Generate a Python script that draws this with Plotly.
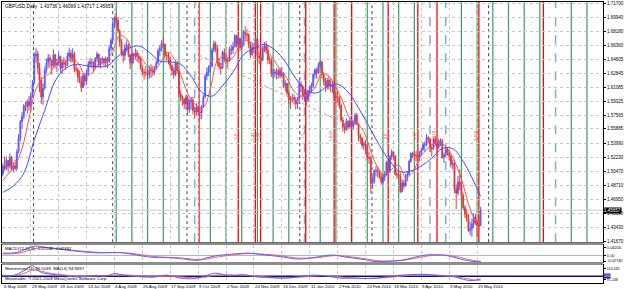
import plotly.graph_objects as go

# ---------------- data (bar index 0 = 6 May 2009 ... 274 = 27 May 2010) ----------------
bar_close = [
1.5120,1.5090,1.5190,1.5120,1.5230,1.5080,1.5120,1.5090,1.5300,1.5470,
1.5680,1.5740,1.5880,1.5870,1.5930,1.5880,1.6000,1.6160,1.6500,1.6530,
1.6350,1.6200,1.5990,1.6100,1.6330,1.6420,1.6480,1.6450,1.6380,1.6520,
1.6390,1.6420,1.6500,1.6350,1.6430,1.6400,1.6390,1.6500,1.6540,1.6470,
1.6530,1.6340,1.6330,1.6240,1.6190,1.6110,1.6260,1.6190,1.6300,1.6400,
1.6430,1.6420,1.6360,1.6470,1.6530,1.6390,1.6450,1.6470,1.6420,1.6470,
1.6440,1.6600,1.6700,1.6910,1.6990,1.6950,1.6820,1.6680,1.6540,1.6510,
1.6610,1.6640,1.6520,1.6420,1.6530,1.6500,1.6540,1.6500,1.6470,1.6350,
1.6300,1.6290,1.6290,1.6270,1.6330,1.6320,1.6300,1.6350,1.6420,1.6570,
1.6600,1.6660,1.6650,1.6510,1.6510,1.6460,1.6380,1.6320,1.6270,1.6410,
1.6320,1.6030,1.5980,1.5960,1.5900,1.5980,1.5830,1.5920,1.5950,1.5820,
1.5800,1.5860,1.5800,1.5790,1.5870,1.5990,1.6250,1.6300,1.6360,1.6380,
1.6580,1.6660,1.6600,1.6420,1.6370,1.6350,1.6550,1.6460,1.6450,1.6440,
1.6590,1.6580,1.6620,1.6760,1.6650,1.6730,1.6610,1.6640,1.6800,1.6780,
1.6770,1.6650,1.6520,1.6610,1.6600,1.6720,1.6500,1.6480,1.6450,1.6610,
1.6630,1.6580,1.6460,1.6450,1.6280,1.6290,1.6300,1.6270,1.6320,1.6260,
1.6290,1.6130,1.6160,1.6040,1.5960,1.5950,1.5980,1.5950,1.5900,1.5960,
1.6150,1.6120,1.6000,1.6030,1.5950,1.6050,1.6100,1.6130,1.6270,1.6330,
1.6290,1.6390,1.6430,1.6270,1.6180,1.6120,1.6200,1.6140,1.6120,1.6140,
1.5990,1.5990,1.5980,1.5880,1.5700,1.5610,1.5580,1.5680,1.5610,1.5690,
1.5620,1.5660,1.5760,1.5650,1.5500,1.5470,1.5380,1.5400,1.5360,1.5230,
1.5220,1.4900,1.4930,1.5060,1.5060,1.5050,1.4980,1.4920,1.4980,1.5020,
1.5170,1.5050,1.5240,1.5300,1.5250,1.5020,1.5010,1.4990,1.4800,1.4910,
1.4870,1.4990,1.5020,1.5180,1.5280,1.5270,1.5250,1.5250,1.5230,1.5280,
1.5330,1.5390,1.5390,1.5480,1.5460,1.5350,1.5340,1.5460,1.5410,1.5360,
1.5440,1.5440,1.5230,1.5260,1.5330,1.5280,1.5250,1.5140,1.5160,1.4830,
1.4780,1.4920,1.4870,1.4750,1.4600,1.4520,1.4460,1.4310,1.4330,1.4390,
1.4480,1.4410,1.4380,1.4370,1.4566]
bar_high = [
1.5160,1.5240,1.5240,1.5200,1.5280,1.5250,1.5170,1.5200,1.5330,1.5520,
1.5700,1.5800,1.5900,1.5930,1.5960,1.6000,1.6040,1.6200,1.6550,1.6600,
1.6570,1.6420,1.6240,1.6160,1.6370,1.6470,1.6530,1.6520,1.6460,1.6590,
1.6530,1.6470,1.6560,1.6510,1.6460,1.6490,1.6460,1.6550,1.6610,1.6580,
1.6600,1.6560,1.6400,1.6360,1.6320,1.6250,1.6290,1.6290,1.6330,1.6440,
1.6480,1.6470,1.6440,1.6490,1.6560,1.6530,1.6480,1.6500,1.6480,1.6500,
1.6490,1.6640,1.6730,1.6950,1.7000,1.7043,1.6990,1.6840,1.6720,1.6590,
1.6660,1.6700,1.6660,1.6510,1.6560,1.6540,1.6600,1.6580,1.6540,1.6500,
1.6390,1.6340,1.6380,1.6330,1.6380,1.6400,1.6380,1.6380,1.6450,1.6600,
1.6640,1.6700,1.6740,1.6660,1.6560,1.6550,1.6490,1.6400,1.6360,1.6450,
1.6440,1.6330,1.6070,1.6010,1.5980,1.6020,1.6000,1.5960,1.5990,1.5990,
1.5870,1.5910,1.5890,1.5860,1.5890,1.6020,1.6280,1.6360,1.6390,1.6460,
1.6610,1.6700,1.6690,1.6640,1.6480,1.6420,1.6570,1.6600,1.6530,1.6480,
1.6620,1.6640,1.6680,1.6780,1.6770,1.6760,1.6730,1.6700,1.6830,1.6877,
1.6840,1.6790,1.6680,1.6660,1.6660,1.6750,1.6730,1.6550,1.6530,1.6630,
1.6680,1.6690,1.6640,1.6500,1.6480,1.6340,1.6340,1.6350,1.6340,1.6360,
1.6370,1.6300,1.6200,1.6160,1.6060,1.6000,1.6030,1.6020,1.5990,1.5990,
1.6210,1.6190,1.6140,1.6070,1.6050,1.6080,1.6140,1.6170,1.6290,1.6350,
1.6360,1.6420,1.6460,1.6440,1.6300,1.6230,1.6230,1.6250,1.6220,1.6190,
1.6160,1.6050,1.6060,1.6000,1.5910,1.5740,1.5660,1.5720,1.5700,1.5730,
1.5710,1.5690,1.5790,1.5790,1.5660,1.5530,1.5490,1.5430,1.5450,1.5390,
1.5300,1.5240,1.4990,1.5080,1.5120,1.5120,1.5080,1.5030,1.5010,1.5060,
1.5190,1.5170,1.5260,1.5330,1.5310,1.5250,1.5070,1.5060,1.5040,1.4950,
1.4950,1.5020,1.5050,1.5200,1.5290,1.5300,1.5300,1.5310,1.5290,1.5310,
1.5350,1.5420,1.5430,1.5520,1.5500,1.5480,1.5400,1.5480,1.5500,1.5420,
1.5460,1.5470,1.5460,1.5290,1.5370,1.5360,1.5330,1.5260,1.5200,1.5200,
1.4890,1.5000,1.5080,1.4920,1.4780,1.4630,1.4580,1.4520,1.4420,1.4460,
1.4530,1.4520,1.4450,1.4490,1.4610]
bar_low = [
1.4990,1.5060,1.5070,1.5050,1.5090,1.5060,1.5040,1.5070,1.5060,1.5280,
1.5430,1.5590,1.5710,1.5810,1.5780,1.5820,1.5800,1.5980,1.6160,1.6420,
1.6280,1.6050,1.5900,1.5890,1.6080,1.6290,1.6360,1.6350,1.6270,1.6350,
1.6350,1.6300,1.6380,1.6290,1.6280,1.6350,1.6330,1.6380,1.6460,1.6420,
1.6430,1.6300,1.6300,1.6170,1.6160,1.6050,1.6100,1.6130,1.6140,1.6250,
1.6360,1.6350,1.6300,1.6340,1.6430,1.6360,1.6350,1.6400,1.6370,1.6370,
1.6350,1.6420,1.6560,1.6690,1.6860,1.6870,1.6790,1.6620,1.6500,1.6420,
1.6450,1.6560,1.6490,1.6340,1.6400,1.6410,1.6460,1.6430,1.6420,1.6330,
1.6260,1.6210,1.6250,1.6180,1.6220,1.6230,1.6250,1.6270,1.6330,1.6400,
1.6500,1.6560,1.6600,1.6470,1.6440,1.6400,1.6340,1.6260,1.6220,1.6250,
1.6290,1.5990,1.5930,1.5880,1.5840,1.5830,1.5770,1.5790,1.5830,1.5770,
1.5710,1.5760,1.5750,1.5710,1.5710,1.5850,1.5970,1.6200,1.6250,1.6300,
1.6360,1.6550,1.6550,1.6380,1.6330,1.6270,1.6340,1.6430,1.6400,1.6360,
1.6430,1.6520,1.6530,1.6610,1.6610,1.6630,1.6570,1.6580,1.6640,1.6710,
1.6700,1.6600,1.6480,1.6510,1.6540,1.6580,1.6440,1.6400,1.6400,1.6440,
1.6550,1.6530,1.6400,1.6400,1.6240,1.6220,1.6230,1.6210,1.6220,1.6220,
1.6230,1.6100,1.6060,1.6010,1.5900,1.5840,1.5920,1.5900,1.5830,1.5840,
1.5940,1.6050,1.5950,1.5930,1.5880,1.5920,1.5990,1.6040,1.6100,1.6220,
1.6220,1.6280,1.6350,1.6220,1.6140,1.6050,1.6080,1.6080,1.6050,1.6040,
1.5960,1.5910,1.5910,1.5840,1.5680,1.5550,1.5530,1.5560,1.5580,1.5590,
1.5580,1.5580,1.5640,1.5630,1.5430,1.5400,1.5340,1.5320,1.5270,1.5200,
1.5150,1.4780,1.4830,1.4900,1.4990,1.4980,1.4960,1.4890,1.4890,1.4930,
1.5000,1.5000,1.5030,1.5200,1.5200,1.5000,1.4960,1.4960,1.4780,1.4790,
1.4830,1.4860,1.4930,1.5000,1.5160,1.5220,1.5190,1.5180,1.5170,1.5180,
1.5250,1.5310,1.5300,1.5370,1.5410,1.5300,1.5240,1.5320,1.5370,1.5290,
1.5330,1.5370,1.5210,1.5160,1.5230,1.5250,1.5190,1.5100,1.5080,1.4780,
1.4580,1.4750,1.4820,1.4700,1.4570,1.4470,1.4420,1.4290,1.4250,1.4230,
1.4340,1.4380,1.4230,1.4330,1.4372]
first_open = 1.5020
bar_open = [first_open] + bar_close[:-1]
bar_index = list(range(len(bar_close)))

# moving averages (bar index, price)
ma_fast_bars = [0,3,7,11,15,19,23,27,31,35,39,43,47,51,55,59,63,67,71,75,79,83,87,91,95,99,103,107,111,115,
                119,123,127,131,135,139,143,147,151,155,159,163,167,171,175,179,183,187,191,195,199,203,207,211,
                215,219,223,227,231,235,239,243,247,251,255,259,263,267,271,274]
ma_fast_vals = [1.494,1.502,1.513,1.534,1.572,1.609,1.623,1.629,1.642,1.642,1.645,1.642,1.627,1.629,1.641,1.6445,
                1.656,1.676,1.672,1.653,1.648,1.638,1.633,1.644,1.655,1.644,1.621,1.599,1.588,1.586,1.609,1.644,
                1.650,1.647,1.660,1.670,1.667,1.661,1.657,1.647,1.633,1.622,1.606,1.600,1.602,1.611,1.628,1.625,
                1.611,1.593,1.572,1.566,1.5555,1.531,1.510,1.500,1.508,1.513,1.498,1.504,1.522,1.5325,1.540,1.541,
                1.534,1.5185,1.496,1.465,1.444,1.4405]
ma_slow_bars = [0,6,12,18,24,30,36,42,48,54,60,66,72,78,84,90,96,102,108,114,120,126,132,138,144,150,156,162,
                168,174,180,186,192,198,204,210,216,222,228,234,240,246,252,258,264,270,274]
ma_slow_vals = [1.479,1.487,1.503,1.545,1.582,1.619,1.635,1.640,1.638,1.637,1.638,1.650,1.660,1.663,1.655,1.644,
                1.643,1.640,1.625,1.605,1.600,1.613,1.630,1.652,1.660,1.665,1.658,1.643,1.622,1.607,1.604,1.612,
                1.615,1.605,1.585,1.562,1.538,1.518,1.505,1.506,1.512,1.522,1.534,1.534,1.518,1.493,1.474]

# MACD panel (bar index, main, signal)
macd_bars = [0,8,14,18,22,27,32,37,42,48,56,63,68,74,80,86,94,103,108,112,117,122,131,137,141,150,160,
             169,179,186,190,196,202,208,214,220,229,236,243,250,254,260,265,270,274]
macd_main = [0.009,0.012,0.028,0.038,0.036,0.030,0.026,0.021,0.017,0.013,0.010,0.012,0.011,0.005,-0.003,-0.008,
             -0.009,-0.014,-0.019,-0.020,-0.010,-0.002,0.005,0.008,0.009,0.002,-0.006,-0.015,-0.008,0.000,0.001,
             -0.006,-0.012,-0.018,-0.026,-0.024,-0.019,-0.008,0.002,0.002,0.000,-0.010,-0.019,-0.025,-0.026]
macd_signal = [0.006,0.008,0.018,0.027,0.032,0.031,0.028,0.024,0.020,0.016,0.012,0.011,0.011,0.008,0.002,-0.004,
               -0.008,-0.011,-0.015,-0.018,-0.015,-0.008,0.001,0.006,0.008,0.005,-0.002,-0.011,-0.010,-0.004,-0.001,
               -0.003,-0.008,-0.014,-0.021,-0.024,-0.021,-0.013,-0.003,0.001,0.001,-0.005,-0.013,-0.021,-0.024]
macd_range = [-0.02740, 0.04206]
macd_label_vals = [0.0339, 0.0, -0.0233]
macd_label_text = ["0.04206", "0.00", "-0.02740"]

# Momentum panel (bar index, momentum, its average)
mom_bars = [0,6,12,17,22,28,36,44,52,60,64,70,78,86,94,102,110,116,122,130,138,146,154,162,170,178,186,
            194,202,210,218,226,234,242,250,258,266,270,274]
mom_main = [101.5,101.0,107.0,113.5,105.0,102.5,100.5,99.0,101.0,100.8,103.5,101.0,99.5,98.8,101.5,97.5,97.0,
            100.5,104.0,100.5,102.0,99.0,98.0,97.5,99.5,101.5,100.2,97.5,97.5,97.0,98.5,101.0,102.0,102.5,100.5,
            99.5,95.0,94.5,96.5]
mom_avg = [100.5,100.8,103.5,108.0,106.5,103.5,101.5,100.0,100.2,100.6,101.5,101.8,100.5,99.3,100.0,99.2,97.8,
           98.8,101.5,101.8,101.2,100.0,98.6,97.8,98.6,100.2,100.8,99.0,97.6,97.2,97.8,99.6,101.2,102.0,101.4,
           100.0,97.0,95.2,94.9]
mom_range = [91.248, 114.435]
mom_level = 100
mom_label_vals = [110.0, 95.2]
mom_label_text = ["114.435", "91.248"]

# axis labels
date_labels = ["6 May 2009","28 May 2009","19 Jun 2009","13 Jul 2009","4 Aug 2009","26 Aug 2009",
               "17 Sep 2009","9 Oct 2009","2 Nov 2009","24 Nov 2009","16 Dec 2009","11 Jan 2010",
               "2 Feb 2010","24 Feb 2010","18 Mar 2010","9 Apr 2010","3 May 2010","25 May 2010"]
date_label_bars = [0,16,32,48,64,80,96,112,128,144,160,176,192,208,224,240,256,272]
price_ticks = [1.71700,1.69940,1.68180,1.66360,1.64605,1.62845,1.61085,1.59325,1.57565,1.55885,
               1.53990,1.52230,1.50470,1.48710,1.46950,1.45190,1.43430,1.41670]
price_range = [1.41640, 1.71830]
last_price = 1.45657
header_text = "GBPUSD,Daily  1.43736 1.46099 1.43717 1.45657"

# vertical study lines (bar index, kind)
cycle_bars = [65,74,83,92,101,110,119,128,137,146,155,164,173,182,191,200,209,218,227,236,245,254,263,272,
              281,290,299,308,317,326,335]
cycle_kind = ["g","g","g","g","g","t","g","g","g","g","g","g","t","g","g","g","g","g","g","g","t","t","g","g",
              "g","g","g","g","t","g","g"]
red_line_bars = [112.5,135,144.8,147.8,173.7,190,200,221,238,249,273,310]
red_line_text = ["", "1.0", "1.27", "1.38", "1.5", "1.618", "", "2.0", "1.27", "1.618", "2.618", "1"]
sep_bars = [17.6,63,105.6,170.3,211.7,278.6]
trend_bars = [112.4, 195.8]
trend_vals = [1.6516, 1.5662]
trend2_bars = [67, 74]
trend2_vals = [1.6981, 1.6919]

# ---------------- figure ----------------
X_RANGE = [-0.5, 344.2]
MAIN_DOM = [0.1454, 1.0]
MACD_DOM = [0.0745, 0.1348]
MOM_DOM = [0.0, 0.0638]
FONT = "Liberation Sans, Arial, sans-serif"

fig = go.Figure()
fig.add_trace(go.Candlestick(
    x=bar_index, open=bar_open, high=bar_high, low=bar_low, close=bar_close,
    increasing=dict(line=dict(color="#5a5aff", width=1), fillcolor="#5a5aff"),
    decreasing=dict(line=dict(color="#e83a3a", width=1), fillcolor="#a00000"),
    whiskerwidth=0, xaxis="x", yaxis="y", showlegend=False, hoverinfo="skip"))
fig.add_trace(go.Scatter(x=ma_fast_bars, y=ma_fast_vals, mode="lines", line=dict(color="#ff5050", width=1, shape="spline"),
                         xaxis="x", yaxis="y", showlegend=False, hoverinfo="skip"))
fig.add_trace(go.Scatter(x=ma_slow_bars, y=ma_slow_vals, mode="lines", line=dict(color="#4848ff", width=1, shape="spline"),
                         xaxis="x", yaxis="y", showlegend=False, hoverinfo="skip"))
fig.add_trace(go.Scatter(x=trend_bars, y=trend_vals, mode="lines", line=dict(color="#ff8080", width=1, dash="dot"),
                         xaxis="x", yaxis="y", showlegend=False, hoverinfo="skip"))
fig.add_trace(go.Scatter(x=trend2_bars, y=trend2_vals, mode="lines", line=dict(color="#70b8c8", width=1, dash="dot"),
                         xaxis="x", yaxis="y", showlegend=False, hoverinfo="skip"))
fig.add_trace(go.Scatter(x=macd_bars, y=macd_signal, mode="lines", line=dict(color="#ff6060", width=1, shape="spline"),
                         xaxis="x2", yaxis="y2", showlegend=False, hoverinfo="skip"))
fig.add_trace(go.Scatter(x=macd_bars, y=macd_main, mode="lines", line=dict(color="#6060ff", width=1, shape="spline"),
                         xaxis="x2", yaxis="y2", showlegend=False, hoverinfo="skip"))
fig.add_trace(go.Scatter(x=mom_bars, y=mom_avg, mode="lines", line=dict(color="#ff6060", width=1, shape="spline"),
                         xaxis="x3", yaxis="y3", showlegend=False, hoverinfo="skip"))
fig.add_trace(go.Scatter(x=mom_bars, y=mom_main, mode="lines", line=dict(color="#6060ff", width=1, shape="spline"),
                         xaxis="x3", yaxis="y3", showlegend=False, hoverinfo="skip"))

shapes = []
kind_style = {"g": dict(color="#3c9a60", width=1.2, dash="solid"),
              "t": dict(color="#7ab4c8", width=1.5, dash="dash")}
for b, k in zip(cycle_bars, cycle_kind):
    shapes.append(dict(type="line", xref="x", yref="y domain", x0=b, x1=b, y0=0, y1=1, line=kind_style[k], layer="below"))
for b in red_line_bars:
    shapes.append(dict(type="line", xref="x", yref="y domain", x0=b, x1=b, y0=0, y1=1,
                       line=dict(color="#ff0000", width=1.3), layer="below"))
for b in sep_bars:
    shapes.append(dict(type="line", xref="x", yref="y domain", x0=b, x1=b, y0=0, y1=1,
                       line=dict(color="#404040", width=1, dash="dot"), layer="below"))
shapes.append(dict(type="line", xref="x domain", yref="y", x0=0, x1=1, y0=last_price, y1=last_price,
                   line=dict(color="#c8c8c8", width=1), layer="below"))
shapes.append(dict(type="line", xref="x2 domain", yref="y2", x0=0, x1=1, y0=0, y1=0,
                   line=dict(color="#b0b0b0", width=1), layer="below"))
shapes.append(dict(type="line", xref="x3 domain", yref="y3", x0=0, x1=1, y0=mom_level, y1=mom_level,
                   line=dict(color="#101080", width=1.5), layer="below"))
for y0, y1 in [(MACD_DOM[1], MAIN_DOM[0]), (MOM_DOM[1], MACD_DOM[0])]:
    shapes.append(dict(type="rect", xref="paper", yref="paper", x0=0, x1=1, y0=y0, y1=y1,
                       fillcolor="#8c8c8c", line=dict(width=0)))

ann = []
small = dict(size=4.3, color="#000000", family=FONT)
for lab, b in zip(date_labels, date_label_bars):
    ann.append(dict(x=b, y=0.0, xref="x3", yref="paper", text=lab, showarrow=False, xanchor="left",
                    yanchor="top", borderpad=0, font=small))
for b, t in zip(red_line_bars, red_line_text):
    if t:
        ann.append(dict(x=b - 1.6, y=1.55, xref="x", yref="y", text=t, showarrow=False, textangle=-90,
                        xanchor="center", yanchor="middle", borderpad=0,
                        font=dict(size=4, color="#ff2020", family=FONT)))
ann.append(dict(x=0.003, y=0.998, xref="paper", yref="paper", text=header_text, showarrow=False, xanchor="left",
                yanchor="top", borderpad=0, font=dict(size=4.8, color="#000000", family=FONT)))
ann.append(dict(x=1.0, y=last_price, xref="paper", yref="y", text="%.5f" % last_price, showarrow=False,
                xanchor="left", yanchor="middle", bgcolor="#000000", font=dict(size=4.5, color="#ffffff", family=FONT),
                borderpad=0))
ann.append(dict(x=1.0, y=mom_level, xref="paper", yref="y3", text="100", showarrow=False,
                xanchor="left", yanchor="middle", bgcolor="#2020a0", font=dict(size=3.6, color="#ffffff", family=FONT),
                borderpad=0))
ann.append(dict(x=0.003, y=MACD_DOM[1], xref="paper", yref="paper", text="MACD(12,26,9) -0.02548 -0.02392",
                showarrow=False, xanchor="left", yanchor="top", borderpad=0, font=small))
ann.append(dict(x=0.003, y=MOM_DOM[1], xref="paper", yref="paper", text="Momentum(14) 96.5039  MA(14) 94.8837",
                showarrow=False, xanchor="left", yanchor="top", borderpad=0, font=small))
ann.append(dict(x=0.003, y=0.005, xref="paper", yref="paper", text="Metatrader, © 2001-2008 MetaQuotes Software Corp.",
                showarrow=False, xanchor="left", yanchor="bottom", borderpad=0, font=small))

axis_common = dict(showline=True, linecolor="#000000", linewidth=1, mirror=True, zeroline=False)
fig.update_layout(
    width=625, height=289, margin=dict(l=2, r=16, t=1, b=6),
    paper_bgcolor="#ffffff", plot_bgcolor="#ffffff", showlegend=False,
    font=dict(family=FONT, size=5, color="#000000"),
    xaxis=dict(domain=[0, 1], anchor="y", range=X_RANGE, tickvals=date_label_bars, showticklabels=False,
               showgrid=True, gridcolor="#c8c8c8", griddash="dot", gridwidth=1, rangeslider=dict(visible=False),
               ticks="", **axis_common),
    xaxis2=dict(domain=[0, 1], anchor="y2", range=X_RANGE, matches="x", tickvals=date_label_bars,
                showticklabels=False, showgrid=True, gridcolor="#c8c8c8", griddash="dot", ticks="", **axis_common),
    xaxis3=dict(domain=[0, 1], anchor="y3", range=X_RANGE, matches="x", tickvals=date_label_bars,
                showticklabels=False, showgrid=True, gridcolor="#c8c8c8", griddash="dot", ticks="", **axis_common),
    yaxis=dict(domain=MAIN_DOM, anchor="x", side="right", range=price_range, tickvals=price_ticks,
               ticktext=["%.5f" % v for v in price_ticks], showgrid=True, gridcolor="#c8c8c8", griddash="dot",
               ticks="outside", ticklen=2, tickcolor="#000000", tickfont=dict(size=4.5), **axis_common),
    yaxis2=dict(domain=MACD_DOM, anchor="x2", side="right", range=macd_range,
                tickvals=macd_label_vals, ticktext=macd_label_text,
                showgrid=False, ticks="outside", ticklen=2, tickcolor="#000000", tickfont=dict(size=4), **axis_common),
    yaxis3=dict(domain=MOM_DOM, anchor="x3", side="right", range=mom_range,
                tickvals=mom_label_vals, ticktext=mom_label_text,
                showgrid=False, ticks="outside", ticklen=2, tickcolor="#000000", tickfont=dict(size=3.6), **axis_common),
    shapes=shapes, annotations=ann,
)
fig.write_html("out.html")
